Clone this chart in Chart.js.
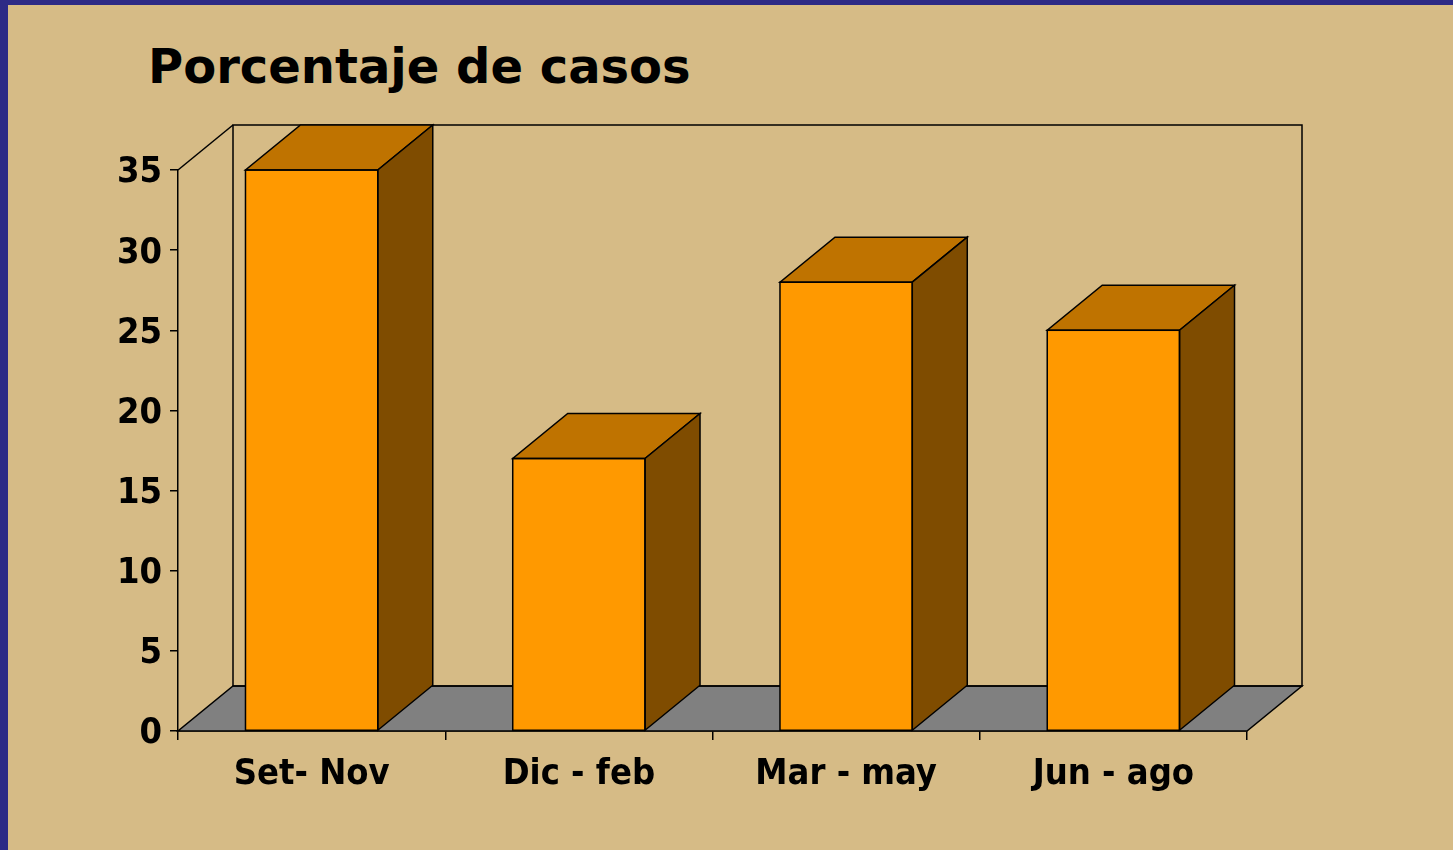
<!DOCTYPE html>
<html>
<head>
<meta charset="utf-8">
<script src="https://cdn.jsdelivr.net/npm/chart.js@4/dist/chart.umd.min.js"></script>
<style>
  body { margin: 0; background: #2d2a86; }
  #wrap { position: absolute; left: 8px; top: 5px; width: 1445px; height: 845px; background: #d6bb86; }
  #titulo { position: absolute; left: 140px; top: 37px; margin: 0; font: bold 48px/48px "DejaVu Sans", sans-serif; color: #000; white-space: nowrap; }
  canvas { position: absolute; left: 0; top: 0; }
</style>
</head>
<body>
<div id="wrap">
  <h1 id="titulo"></h1>
  <canvas id="chart" width="1445" height="845"></canvas>
</div>
<script>
// datos del grafico
const titulo = "Porcentaje de casos";
const categorias = ["Set- Nov", "Dic - feb", "Mar - may", "Jun - ago"];
const porcentajes = [35, 17, 28, 25];
const yMax = 35;
const yPaso = 5;

document.getElementById("titulo").textContent = titulo;

const fuente = "'DejaVu Sans Condensed', 'DejaVu Sans', sans-serif";
// profundidad del efecto 3D
const dx = 55;
const dy = -45;

function poly(ctx, pts, fill) {
  ctx.beginPath();
  ctx.moveTo(pts[0][0], pts[0][1]);
  for (let i = 1; i < pts.length; i++) ctx.lineTo(pts[i][0], pts[i][1]);
  ctx.closePath();
  if (fill) {
    ctx.fillStyle = fill;
    ctx.fill();
  }
  ctx.stroke();
}

// piso y paredes
const paredes = {
  id: "paredes",
  beforeDatasetsDraw(chart) {
    const ctx = chart.ctx;
    const x = chart.scales.x;
    const y = chart.scales.y;
    const l = x.left, r = x.right;
    const b = y.getPixelForValue(0), t = y.getPixelForValue(yMax);
    ctx.save();
    ctx.strokeStyle = "#000";
    ctx.lineWidth = 1.5;
    poly(ctx, [[l, b], [r, b], [r + dx, b + dy], [l + dx, b + dy]], "#808080");
    ctx.strokeRect(l + dx, t + dy, r - l, b - t);
    ctx.beginPath();
    ctx.moveTo(l, t);
    ctx.lineTo(l + dx, t + dy);
    ctx.stroke();
    ctx.restore();
  },
  afterDatasetsDraw(chart) {
    const ctx = chart.ctx;
    ctx.save();
    ctx.strokeStyle = "#000";
    ctx.lineWidth = 1.5;
    chart.getDatasetMeta(0).data.forEach((bar) => {
      const l = bar.x - bar.width / 2, r = bar.x + bar.width / 2;
      const t = bar.y, b = bar.base;
      poly(ctx, [[l, t], [r, t], [r + dx, t + dy], [l + dx, t + dy]], "#bf7300");
      poly(ctx, [[r, t], [r + dx, t + dy], [r + dx, b + dy], [r, b]], "#7f4c00");
      ctx.strokeRect(l, t, r - l, b - t);
    });
    ctx.restore();
  },
};

new Chart(document.getElementById("chart"), {
  type: "bar",
  data: {
    labels: categorias,
    datasets: [
      {
        data: porcentajes,
        backgroundColor: "#ff9900",
        borderColor: "#000",
        borderWidth: 0,
        categoryPercentage: 1,
        barPercentage: 0.495,
      },
    ],
  },
  options: {
    responsive: false,
    animation: false,
    layout: { padding: { left: 100, right: 206, top: 165, bottom: 39 } },
    plugins: {
      legend: { display: false },
      tooltip: { enabled: false },
      title: { display: false },
    },
    scales: {
      x: {
        afterFit(scale) { scale.height = 80; },
        grid: { drawOnChartArea: false, offset: true, tickLength: 9, color: "#000", lineWidth: 1.5 },
        border: { display: true, color: "#000", width: 1.5 },
        ticks: { color: "#000", padding: 13, font: { family: fuente, size: 36, weight: "bold" } },
      },
      y: {
        min: 0,
        max: yMax,
        afterFit(scale) { scale.width = 70; },
        grid: { drawOnChartArea: false, tickLength: 8, color: "#000", lineWidth: 1.5 },
        border: { display: true, color: "#000", width: 1.5 },
        ticks: { stepSize: yPaso, color: "#000", padding: 8, labelOffset: 3, font: { family: fuente, size: 36, weight: "bold" } },
      },
    },
  },
  plugins: [paredes],
});
</script>
</body>
</html>
